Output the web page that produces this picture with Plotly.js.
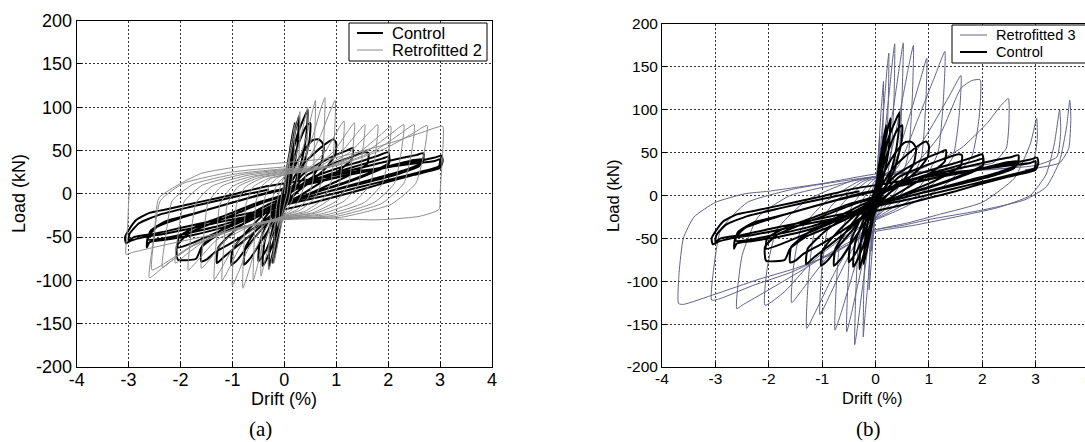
<!DOCTYPE html>
<html><head><meta charset="utf-8">
<script src="https://cdn.plot.ly/plotly-3.0.1.min.js"></script>
<style>html,body{margin:0;padding:0;overflow:hidden;background:#fff}#chart{width:1100px;height:442px}</style>
</head><body><div id="chart"></div>
<script>
const driftTicks=[-4,-3,-2,-1,0,1,2,3,4];
const loadTicks=[-200,-150,-100,-50,0,50,100,150,200];
const seriesNames=["Control","Retrofitted 2","Retrofitted 3"];

// Control specimen: [drift %, load kN]
const controlPts=[
[0,0],[0.05,28],[0.1,48],[0.08,25],[0.03,5],[-0.04,-22],[-0.1,-45],[-0.08,-22],[-0.02,0],
[0.05,25],[0.12,55],[0.2,82],[0.17,50],[0.1,18],[0,-12],[-0.1,-45],[-0.22,-80],[-0.19,-48],[-0.1,-18],[0,8],
[0.1,40],[0.2,70],[0.28,90],[0.25,55],[0.15,22],[0,-12],[-0.12,-42],[-0.22,-68],[-0.3,-86],[-0.27,-52],[-0.15,-22],[0,10],
[0.12,38],[0.25,68],[0.38,88],[0.45,97],[0.43,72],[0.35,42],[0.22,15],[0.05,-10],[-0.12,-38],[-0.25,-62],[-0.38,-80],[-0.42,-83],[-0.38,-55],[-0.22,-28],[0,2],
[0.15,35],[0.3,62],[0.42,78],[0.5,82],[0.48,60],[0.35,30],[0.15,5],[-0.05,-15],[-0.2,-42],[-0.35,-65],[-0.5,-78],[-0.47,-55],[-0.3,-30],[-0.05,-2],
[0.2,32],[0.4,52],[0.55,62],[0.65,63],[0.72,60],[0.76,54],[0.72,38],[0.55,20],[0.3,5],[0.05,-10],[-0.2,-32],[-0.45,-55],[-0.65,-74],[-0.78,-82],[-0.75,-62],[-0.55,-42],[-0.25,-18],[0,0],
[0.3,30],[0.6,48],[0.8,58],[0.95,63],[1.0,58],[0.98,45],[0.8,30],[0.5,14],[0.2,0],[-0.1,-15],[-0.4,-38],[-0.7,-60],[-0.9,-76],[-1.02,-82],[-1.0,-65],[-0.75,-45],[-0.4,-24],[0,-3],
[0.35,22],[0.7,36],[1.0,45],[1.2,50],[1.32,53],[1.3,40],[1.05,27],[0.7,13],[0.3,-2],[-0.1,-16],[-0.5,-40],[-0.9,-60],[-1.15,-72],[-1.3,-80],[-1.27,-62],[-0.95,-42],[-0.5,-22],[0,-5],
[0.45,22],[0.9,34],[1.3,43],[1.55,48],[1.62,47],[1.6,35],[1.3,23],[0.85,10],[0.4,-2],[0,-14],[-0.5,-36],[-1.0,-56],[-1.35,-68],[-1.5,-76],[-1.6,-78],[-1.58,-60],[-1.25,-43],[-0.8,-28],[-0.3,-12],[0,-4],
[0.5,18],[1.0,29],[1.5,38],[1.8,44],[2.0,48],[2.02,36],[1.7,26],[1.2,14],[0.7,4],[0.2,-7],[-0.3,-20],[-0.8,-35],[-1.3,-48],[-1.6,-62],[-1.7,-75],[-2.05,-76],[-2.07,-60],[-1.85,-46],[-1.4,-34],[-0.9,-22],[-0.4,-10],[0,-2],
[0.5,15],[1.0,25],[1.5,34],[1.9,41],[2.02,43],[2.0,33],[1.6,22],[1.0,9],[0.5,0],[0,-9],[-0.6,-26],[-1.2,-42],[-1.7,-55],[-2.05,-62],[-2.03,-50],[-1.7,-38],[-1.1,-24],[-0.5,-10],[0,-1],
[0.6,16],[1.2,26],[1.8,35],[2.3,42],[2.55,45],[2.68,47],[2.66,36],[2.3,27],[1.7,17],[1.1,7],[0.5,-3],[0,-11],[-0.6,-26],[-1.2,-39],[-1.8,-48],[-2.3,-53],[-2.6,-56],[-2.65,-62],[-2.63,-50],[-2.45,-38],[-2.0,-28],[-1.4,-17],[-0.7,-5],[0,5],
[0.6,13],[1.3,23],[2.0,32],[2.5,39],[2.65,40],[2.6,32],[2.2,23],[1.5,12],[0.8,2],[0.2,-8],[-0.5,-22],[-1.2,-36],[-1.9,-46],[-2.4,-52],[-2.62,-53],[-2.58,-43],[-2.3,-32],[-1.7,-22],[-1.0,-10],[-0.3,2],
[0.3,10],[0.9,18],[1.5,25],[2.1,32],[2.6,38],[2.9,42],[3.03,44],[3.05,38],[3.0,30],[2.5,22],[2.0,14],[1.5,5],[1.0,-3],[0.5,-11],[0,-18],[-0.6,-25],[-1.2,-32],[-1.8,-40],[-2.3,-46],[-2.7,-50],[-2.95,-54],[-3.05,-57],[-3.07,-50],[-3.0,-42],[-2.85,-30],[-2.6,-22],[-2.2,-17],[-1.6,-9],[-1.0,-1],[-0.4,8],[0.2,14],
[0.8,20],[1.4,26],[2.0,31],[2.5,35],[2.9,38],[3.0,40],[2.98,32],[2.6,25],[2.0,16],[1.4,7],[0.8,-2],[0.2,-10],[-0.5,-20],[-1.2,-29],[-1.9,-38],[-2.5,-46],[-2.9,-50],[-3.0,-54],[-2.98,-46],[-2.8,-34],[-2.4,-24],[-1.8,-15],[-1.0,-4],[-0.3,5]
];

// Retrofitted 2 specimen
const retro2Pts=[
[0,0],[0.05,25],[0.1,45],[0.09,20],[0.05,0],[0,-12],[-0.05,-25],[-0.1,-40],[-0.09,-18],[-0.05,0],[0,12],
[0.07,35],[0.14,60],[0.2,80],[0.19,45],[0.15,15],[0.08,-8],[0,-20],[-0.07,-40],[-0.14,-62],[-0.2,-80],[-0.19,-45],[-0.15,-15],[-0.08,8],[0,20],
[0.1,40],[0.2,70],[0.27,88],[0.3,95],[0.29,55],[0.25,18],[0.15,-8],[0.02,-22],[-0.1,-40],[-0.2,-65],[-0.27,-82],[-0.3,-88],[-0.29,-50],[-0.25,-12],[-0.15,10],[0,20],
[0.15,30],[0.3,62],[0.4,88],[0.45,100],[0.44,58],[0.4,15],[0.3,-5],[0.15,-18],[0,-24],[-0.15,-32],[-0.3,-60],[-0.4,-84],[-0.45,-95],[-0.44,-52],[-0.4,-10],[-0.3,8],[-0.15,18],[0,22],
[0.2,28],[0.42,65],[0.54,95],[0.6,108],[0.58,60],[0.55,15],[0.45,-5],[0.25,-18],[0,-25],[-0.2,-32],[-0.42,-60],[-0.54,-88],[-0.6,-100],[-0.58,-55],[-0.55,-10],[-0.45,8],[-0.25,18],[0,22],
[0.27,28],[0.55,67],[0.7,98],[0.78,111],[0.76,62],[0.72,15],[0.58,-5],[0.3,-19],[0,-25],[-0.28,-33],[-0.56,-65],[-0.72,-96],[-0.8,-109],[-0.78,-60],[-0.74,-12],[-0.6,8],[-0.3,18],[0,22],
[0.34,28],[0.68,65],[0.88,95],[0.98,108],[0.96,60],[0.9,14],[0.74,-6],[0.4,-20],[0,-26],[-0.35,-34],[-0.7,-64],[-0.9,-93],[-1.0,-106],[-0.97,-58],[-0.92,-12],[-0.75,8],[-0.4,19],[0,23],
[0.4,26],[0.8,50],[1.03,74],[1.15,84],[1.12,46],[1.06,12],[0.86,-7],[0.46,-21],[0,-26],[-0.42,-34],[-0.84,-60],[-1.08,-88],[-1.2,-100],[-1.16,-55],[-1.1,-12],[-0.9,8],[-0.48,19],[0,24],
[0.47,26],[0.95,49],[1.22,72],[1.35,82],[1.31,45],[1.24,12],[1.01,-8],[0.54,-22],[0,-27],[-0.47,-35],[-0.95,-59],[-1.22,-87],[-1.35,-99],[-1.31,-54],[-1.24,-12],[-1.01,8],[-0.54,20],[0,25],
[0.54,27],[1.09,48],[1.4,70],[1.55,80],[1.5,44],[1.43,12],[1.16,-8],[0.62,-22],[0,-27],[-0.56,-35],[-1.12,-52],[-1.44,-76],[-1.6,-86],[-1.55,-47],[-1.47,-10],[-1.2,9],[-0.64,20],[0,26],
[0.63,28],[1.26,48],[1.62,70],[1.8,80],[1.75,44],[1.66,12],[1.35,-9],[0.72,-23],[0,-28],[-0.65,-36],[-1.3,-53],[-1.67,-77],[-1.85,-88],[-1.8,-48],[-1.7,-10],[-1.39,9],[-0.74,21],[0,27],
[0.72,29],[1.44,48],[1.85,68],[2.05,78],[2.0,43],[1.89,12],[1.54,-10],[0.82,-24],[0,-28],[-0.74,-37],[-1.47,-52],[-1.89,-70],[-2.1,-80],[-2.04,-44],[-1.93,-9],[-1.58,10],[-0.84,22],[0,28],
[0.8,30],[1.61,50],[2.07,70],[2.3,80],[2.24,44],[2.12,12],[1.73,-10],[0.92,-25],[0,-29],[-0.82,-38],[-1.65,-55],[-2.12,-75],[-2.35,-85],[-2.28,-47],[-2.16,-8],[-1.76,11],[-0.94,23],[0,29],
[0.88,31],[1.75,50],[2.25,70],[2.5,80],[2.44,44],[2.3,12],[1.88,-11],[1.0,-26],[0,-29],[-0.9,-40],[-1.82,-62],[-2.34,-85],[-2.6,-97],[-2.52,-53],[-2.39,-8],[-1.95,12],[-1.04,25],[0,31],
[0.96,32],[1.93,52],[2.48,70],[2.75,79],[2.68,44],[2.53,12],[2.06,-12],[1.1,-27],[0,-30],[-0.9,-40],[-1.78,-60],[-2.3,-80],[-2.55,-88],[-2.5,-45],[-2.42,-5],[-2.0,12],[-1.58,24],[-0.8,32],[0,36],
[1.0,42],[2.0,58],[2.7,72],[3.05,78],[3.06,60],[3.02,20],[3.0,0],[2.98,-18],[2.6,-26],[1.8,-30],[1.0,-29],[0.3,-27],[-0.5,-35],[-1.2,-45],[-2.0,-55],[-2.6,-63],[-2.95,-68],[-3.05,-70],[-3.02,-40],[-3.0,-10],[-2.98,10]
];

// Retrofitted 3 specimen
const retro3Pts=[
[0,0],[0.04,35],[0.08,70],[0.07,35],[0.03,5],[0,-15],[-0.04,-38],[-0.08,-65],[-0.07,-30],[-0.03,-5],[0,10],
[0.05,45],[0.1,95],[0.15,133],[0.14,80],[0.1,30],[0.04,0],[0,-20],[-0.05,-55],[-0.12,-110],[-0.11,-65],[-0.07,-25],[0,5],
[0.08,45],[0.16,105],[0.22,150],[0.25,166],[0.24,110],[0.2,50],[0.12,10],[0,-20],[-0.08,-55],[-0.16,-115],[-0.21,-150],[-0.23,-165],[-0.22,-110],[-0.18,-50],[-0.1,-10],[0,12],
[0.12,45],[0.24,110],[0.32,158],[0.36,177],[0.35,120],[0.3,55],[0.2,15],[0.05,-15],[-0.1,-45],[-0.25,-110],[-0.34,-155],[-0.39,-174],[-0.37,-115],[-0.32,-55],[-0.2,-15],[0,15],
[0.15,35],[0.33,100],[0.46,155],[0.52,178],[0.5,120],[0.45,55],[0.32,15],[0.1,-15],[-0.1,-40],[-0.3,-95],[-0.46,-140],[-0.54,-159],[-0.52,-105],[-0.46,-50],[-0.3,-12],[0,18],
[0.2,30],[0.45,95],[0.62,150],[0.71,175],[0.69,115],[0.62,50],[0.45,12],[0.15,-15],[-0.15,-38],[-0.42,-90],[-0.65,-138],[-0.76,-157],[-0.73,-100],[-0.65,-45],[-0.42,-10],[-0.1,15],[0,20],
[0.3,30],[0.6,85],[0.84,135],[0.96,160],[0.94,105],[0.86,45],[0.6,10],[0.2,-15],[-0.2,-38],[-0.58,-80],[-0.9,-122],[-1.04,-139],[-1.01,-90],[-0.9,-40],[-0.6,-8],[-0.15,17],[0,20],
[0.4,32],[0.8,90],[1.13,142],[1.3,168],[1.27,110],[1.17,50],[0.85,12],[0.3,-15],[-0.25,-38],[-0.75,-88],[-1.12,-135],[-1.29,-155],[-1.26,-100],[-1.15,-45],[-0.8,-10],[-0.25,16],[0,22],
[0.5,30],[1.0,75],[1.4,118],[1.6,140],[1.57,95],[1.45,45],[1.05,12],[0.4,-15],[-0.3,-38],[-0.9,-72],[-1.35,-108],[-1.57,-125],[-1.54,-85],[-1.4,-40],[-0.95,-8],[-0.3,17],[0,22],
[0.6,28],[1.2,70],[1.6,125],[1.8,134],[1.96,135],[1.94,90],[1.8,45],[1.3,12],[0.5,-15],[-0.4,-40],[-1.2,-78],[-1.7,-112],[-2.07,-128],[-2.03,-85],[-1.85,-40],[-1.3,-6],[-0.4,18],[0,22],
[0.8,30],[1.6,55],[2.1,85],[2.35,105],[2.49,113],[2.5,85],[2.45,55],[2.2,38],[1.5,32],[0.7,27],[0,22],[-0.8,12],[-1.6,0],[-2.2,-25],[-2.5,-70],[-2.6,-132],[-2.5,-128],[-2.0,-110],[-1.4,-88],[-0.8,-65],[-0.3,-48],[0,-40],[0.6,-32],[1.2,-22],
[2.0,-8],[2.6,20],[2.9,60],[3.02,90],[3.03,65],[2.95,40],[2.5,32],[1.5,28],[0.5,26],[-0.5,18],[-1.5,8],[-2.4,-8],[-2.9,-40],[-3.05,-95],[-3.07,-122],[-2.9,-120],[-2.3,-105],[-1.6,-90],[-0.9,-70],[-0.3,-50],[0,-42],[0.7,-35],[1.5,-25],[2.3,-14],[2.9,0],
[3.2,25],[3.35,60],[3.45,100],[3.47,75],[3.4,45],[3.0,35],[2.0,30],[1.0,27],[0,25],[-1.0,14],[-2.0,5],[-2.45,2],[-3.0,-8],[-3.4,-25],[-3.6,-50],[-3.68,-90],[-3.69,-126],[-3.6,-127],[-3.0,-115],[-2.2,-98],[-1.5,-85],[-0.8,-68],[-0.3,-50],[0,-40],[0.5,-35],[1.0,-28],[2.0,-17],[2.8,-5],[3.2,10],[3.45,40],[3.58,80],[3.64,111],[3.66,90],[3.62,55],[3.45,38],[2.8,30]
];

const W=1100,H=442;
const px=v=>v/W, py=v=>1-v/H;
const FONT="Liberation Sans, Arial, Helvetica, sans-serif";
const SERIF="Liberation Serif, Times New Roman, serif";
const xs=a=>a.map(p=>p[0]), ys=a=>a.map(p=>p[1]);
const COL={ctrl:'#000',r2:'#8c8c8c',r3:'#62628a'};

const traces=[
 {x:xs(controlPts),y:ys(controlPts),xaxis:'x',yaxis:'y',name:seriesNames[0],mode:'lines',line:{color:COL.ctrl,width:2,shape:'spline',smoothing:0.5},hoverinfo:'skip',showlegend:false},
 {x:xs(retro2Pts),y:ys(retro2Pts),xaxis:'x',yaxis:'y',name:seriesNames[1],mode:'lines',line:{color:COL.r2,width:1,shape:'spline',smoothing:0.5},hoverinfo:'skip',showlegend:false},
 {x:xs(retro3Pts),y:ys(retro3Pts),xaxis:'x2',yaxis:'y2',name:seriesNames[2],mode:'lines',line:{color:COL.r3,width:1,shape:'spline',smoothing:0.5},hoverinfo:'skip',showlegend:false},
 {x:xs(controlPts),y:ys(controlPts),xaxis:'x2',yaxis:'y2',name:seriesNames[0],mode:'lines',line:{color:COL.ctrl,width:2,shape:'spline',smoothing:0.5},hoverinfo:'skip',showlegend:false}
];

function ax(domain,anchor,vals,fs,standoff){
 return {domain:domain,anchor:anchor,range:[vals[0],vals[vals.length-1]],tickmode:'array',tickvals:vals,ticktext:vals.map(String),
  showline:true,linecolor:'#000',linewidth:1,mirror:true,ticks:'inside',ticklen:5,tickcolor:'#000',
  showgrid:true,gridcolor:'#333',griddash:'2px,2px',gridwidth:1,zeroline:false,ticklabelstandoff:standoff,
  tickfont:{family:FONT,size:fs,color:'#000'},fixedrange:true};
}

function legendBox(x0,x1,y0,y1,rows,fs){
 const shapes=[{type:'rect',xref:'paper',yref:'paper',x0:px(x0),x1:px(x1),y0:py(y1),y1:py(y0),line:{color:'#000',width:1},fillcolor:'#fff',layer:'above'}];
 const ann=[];
 rows.forEach(r=>{
  shapes.push({type:'line',xref:'paper',yref:'paper',x0:px(r.lx0),x1:px(r.lx1),y0:py(r.y),y1:py(r.y),line:{color:r.color,width:r.width},layer:'above'});
  ann.push({text:r.text,xref:'paper',yref:'paper',x:px(r.tx),y:py(r.y),xanchor:'left',yanchor:'middle',showarrow:false,font:{family:FONT,size:fs,color:'#000'}});
 });
 return {shapes,ann};
}
const legA=legendBox(349,487,23,61,[
 {lx0:357,lx1:383,y:33,tx:390,text:seriesNames[0],color:COL.ctrl,width:2},
 {lx0:357,lx1:383,y:50,tx:390,text:seriesNames[1],color:COL.r2,width:1}],16.5);
const legB=legendBox(952,1098,25,63,[
 {lx0:960,lx1:987,y:35,tx:994,text:seriesNames[2],color:COL.r3,width:1},
 {lx0:960,lx1:987,y:52,tx:994,text:seriesNames[0],color:COL.ctrl,width:2}],14.6);

const T=(text,x,y,size,fam,angle)=>({text:text,xref:'paper',yref:'paper',x:px(x),y:py(y),xanchor:'center',yanchor:'middle',textangle:angle||0,showarrow:false,font:{family:fam,size:size,color:'#000'}});

const layout={
 width:W,height:H,margin:{l:0,r:0,t:0,b:0},paper_bgcolor:'#fff',plot_bgcolor:'#fff',showlegend:false,
 xaxis:ax([px(76.7),px(492)],'y',driftTicks,18,-4),
 yaxis:ax([1-367/H,1-20.7/H],'x',loadTicks,18,0),
 xaxis2:ax([px(662),px(1089)],'y2',driftTicks,15.5,-3),
 yaxis2:ax([1-367/H,1-24/H],'x2',loadTicks,15.5,0),
 shapes:legA.shapes.concat(legB.shapes),
 annotations:[
  T('Load (kN)',19,194,18,FONT,-90),
  T('Drift (%)',284,399,18,FONT),
  T('(a)',260,429,21,SERIF),
  T('Load (kN)',613,196,16.5,FONT,-90),
  T('Drift (%)',873,398,16.5,FONT),
  T('(b)',868,429,21,SERIF)
 ].concat(legA.ann,legB.ann)
};
Plotly.newPlot('chart',traces,layout,{displayModeBar:false,staticPlot:true});
</script></body></html>
